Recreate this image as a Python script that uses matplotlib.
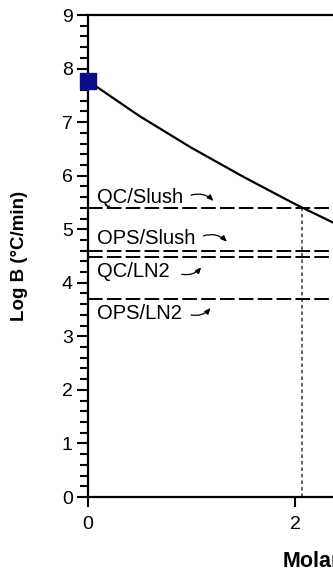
import numpy as np
import matplotlib
matplotlib.use("Agg")
import matplotlib.pyplot as plt
from matplotlib.ticker import MultipleLocator

plt.rcParams['font.family'] = ['Liberation Sans', 'DejaVu Sans']

# cooling-rate curve (log B vs molarity)
molarity = [0.0, 0.5, 1.0, 1.5, 2.0, 2.5]
log_b = [7.77, 7.11, 6.52, 5.98, 5.47, 5.00]

# reference levels for each method
level_names = ['QC/Slush', 'OPS/Slush', 'QC/LN2', 'OPS/LN2']
level_values = [5.40, 4.60, 4.49, 3.70]
crossing_m = 2.07   # where the curve meets QC/Slush

fig = plt.figure(figsize=(3.33, 5.76), dpi=100)
W, H = 333, 576
# axes run past the right edge of the figure
ax = fig.add_axes([88 / W, (H - 497) / H, 414 / W, 482 / H])

ax.plot(molarity, log_b, color='black', lw=1.6, zorder=3)
ax.plot(molarity[0], log_b[0], marker='s', ms=11.5, color='#0b0b8c',
        clip_on=False, zorder=4)

for v in level_values:
    ax.axhline(v, color='black', lw=1.4, ls=(0, (7.5, 2.2)), zorder=2)

ax.plot([crossing_m, crossing_m], [0, level_values[0]], color='#555555',
        lw=1.3, ls=(0, (2, 1.6)), zorder=1)

# text labels with small arrows toward their lines
label_pos = [(0.09, 5.59), (0.09, 4.83), (0.09, 4.21), (0.09, 3.43)]
arrow_pos = [((0.97, 5.62), (1.23, 5.49)),
             ((1.09, 4.86), (1.36, 4.73)),
             ((0.88, 4.17), (1.11, 4.33)),
             ((0.97, 3.41), (1.20, 3.57))]
for name, (tx, ty), (a0, a1) in zip(level_names, label_pos, arrow_pos):
    ax.text(tx, ty, name, fontsize=14.5, va='center', ha='left')
    rad = -0.35 if a1[1] < a0[1] else 0.35
    ax.annotate('', xy=a1, xytext=a0,
                arrowprops=dict(arrowstyle='-|>,head_length=0.35,head_width=0.15',
                                color='black', lw=0.9,
                                connectionstyle='arc3,rad=%.2f' % rad))

ax.set_xlim(0, 4)
ax.set_ylim(0, 9)
ax.set_xticks([0, 2])
ax.yaxis.set_major_locator(MultipleLocator(1))
ax.yaxis.set_minor_locator(MultipleLocator(0.2))
ax.tick_params(axis='y', which='major', length=8, width=1.5, labelsize=14, pad=3)
ax.tick_params(axis='y', which='minor', length=6, width=1.5)
ax.tick_params(axis='x', which='major', length=7, width=1.5, labelsize=14, pad=7)
for s in ax.spines.values():
    s.set_linewidth(1.6)

ax.set_ylabel('Log B (°C/min)', fontsize=13.5, fontweight='bold')
ax.yaxis.set_label_coords(-0.145, 0.5)
fig.text(283 / W, 1 - 561 / H, 'Molarity', fontsize=15.5, fontweight='bold',
         ha='left', va='center')

fig.savefig('out.png', dpi=100)
